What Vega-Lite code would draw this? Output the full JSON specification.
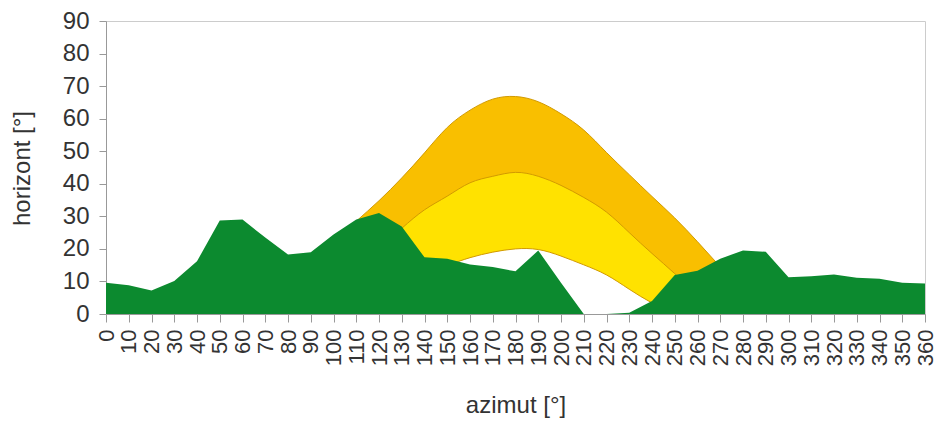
{
  "$schema": "https://vega.github.io/schema/vega-lite/v6.json",
  "autosize": "none",
  "width": 819,
  "height": 293,
  "padding": {"left": 106, "top": 21, "right": 11, "bottom": 111},
  "background": "white",
  "config": {
    "view": {"stroke": "#cccccc", "strokeWidth": 1},
    "font": "Liberation Sans"
  },
  "datasets": {
    "sun": [
      {"curve": "summer", "az": 90, "alt": 15},
      {"curve": "summer", "az": 100, "alt": 22},
      {"curve": "summer", "az": 110, "alt": 28.5},
      {"curve": "summer", "az": 120, "alt": 34.8},
      {"curve": "summer", "az": 130, "alt": 41.8},
      {"curve": "summer", "az": 140, "alt": 49.5},
      {"curve": "summer", "az": 150, "alt": 57.3},
      {"curve": "summer", "az": 160, "alt": 62.6},
      {"curve": "summer", "az": 170, "alt": 66},
      {"curve": "summer", "az": 180, "alt": 66.8},
      {"curve": "summer", "az": 190, "alt": 65.2},
      {"curve": "summer", "az": 200, "alt": 61.5},
      {"curve": "summer", "az": 210, "alt": 56.5},
      {"curve": "summer", "az": 220, "alt": 49.6},
      {"curve": "summer", "az": 230, "alt": 42.8},
      {"curve": "summer", "az": 240, "alt": 36.1},
      {"curve": "summer", "az": 250, "alt": 29.5},
      {"curve": "summer", "az": 260, "alt": 22.2},
      {"curve": "summer", "az": 270, "alt": 14.5},
      {"curve": "summer", "az": 280, "alt": 7},
      {"curve": "equinox", "az": 110, "alt": 13.5},
      {"curve": "equinox", "az": 120, "alt": 20},
      {"curve": "equinox", "az": 130, "alt": 26.3},
      {"curve": "equinox", "az": 140, "alt": 32},
      {"curve": "equinox", "az": 150, "alt": 36.2},
      {"curve": "equinox", "az": 160, "alt": 40.3},
      {"curve": "equinox", "az": 170, "alt": 42.3},
      {"curve": "equinox", "az": 180, "alt": 43.5},
      {"curve": "equinox", "az": 190, "alt": 42.3},
      {"curve": "equinox", "az": 200, "alt": 39.5},
      {"curve": "equinox", "az": 210, "alt": 35.8},
      {"curve": "equinox", "az": 220, "alt": 31.3},
      {"curve": "equinox", "az": 230, "alt": 25},
      {"curve": "equinox", "az": 240, "alt": 18.6},
      {"curve": "equinox", "az": 250, "alt": 12.4},
      {"curve": "equinox", "az": 260, "alt": 6},
      {"curve": "equinox", "az": 270, "alt": 0},
      {"curve": "winter", "az": 130, "alt": 8},
      {"curve": "winter", "az": 140, "alt": 11.5},
      {"curve": "winter", "az": 150, "alt": 14.8},
      {"curve": "winter", "az": 160, "alt": 17.3},
      {"curve": "winter", "az": 170, "alt": 19},
      {"curve": "winter", "az": 180, "alt": 20},
      {"curve": "winter", "az": 190, "alt": 19.8},
      {"curve": "winter", "az": 200, "alt": 17.8},
      {"curve": "winter", "az": 210, "alt": 15.1},
      {"curve": "winter", "az": 220, "alt": 12},
      {"curve": "winter", "az": 230, "alt": 7.6},
      {"curve": "winter", "az": 240, "alt": 3.4},
      {"curve": "winter", "az": 250, "alt": 0}
    ],
    "horizon": [
      {"az": 0, "alt": 9.6}, {"az": 10, "alt": 8.8}, {"az": 20, "alt": 7.2},
      {"az": 30, "alt": 10.1}, {"az": 40, "alt": 16.2}, {"az": 50, "alt": 28.7},
      {"az": 60, "alt": 29}, {"az": 70, "alt": 23.5}, {"az": 80, "alt": 18.3},
      {"az": 90, "alt": 19}, {"az": 100, "alt": 24.4}, {"az": 110, "alt": 29},
      {"az": 120, "alt": 31}, {"az": 130, "alt": 26.9}, {"az": 140, "alt": 17.4},
      {"az": 150, "alt": 17}, {"az": 160, "alt": 15.2}, {"az": 170, "alt": 14.4},
      {"az": 180, "alt": 13.1}, {"az": 190, "alt": 19.5}, {"az": 200, "alt": 9.6},
      {"az": 210, "alt": 0}, {"az": 220, "alt": 0}, {"az": 230, "alt": 0.4},
      {"az": 240, "alt": 4}, {"az": 250, "alt": 12}, {"az": 260, "alt": 13.3},
      {"az": 270, "alt": 17}, {"az": 280, "alt": 19.5}, {"az": 290, "alt": 19.1},
      {"az": 300, "alt": 11.3}, {"az": 310, "alt": 11.6}, {"az": 320, "alt": 12.1},
      {"az": 330, "alt": 11.1}, {"az": 340, "alt": 10.8}, {"az": 350, "alt": 9.6},
      {"az": 360, "alt": 9.4}
    ]
  },
  "encoding": {
    "x": {
      "field": "az", "type": "quantitative",
      "scale": {"domain": [0, 360], "nice": false, "zero": false},
      "axis": {
        "values": [0,10,20,30,40,50,60,70,80,90,100,110,120,130,140,150,160,170,180,190,200,210,220,230,240,250,260,270,280,290,300,310,320,330,340,350,360],
        "labelAngle": -90, "labelFontSize": 22, "labelColor": "#333333",
        "labelPadding": 7, "tickSize": 8, "tickColor": "#999999", "domainColor": "#999999",
        "labelOverlap": false, "labelFlush": false, "labelBound": false, "grid": false,
        "title": "azimut [°]", "titleFontSize": 24, "titleFontWeight": "normal", "titleColor": "#333333",
        "titleY": 91, "titleBaseline": "middle"
      }
    },
    "y": {
      "field": "alt", "type": "quantitative",
      "scale": {"domain": [0, 90], "nice": false},
      "axis": {
        "values": [0,10,20,30,40,50,60,70,80,90],
        "labelFontSize": 24, "labelColor": "#333333", "labelPadding": 10,
        "tickSize": 7, "tickColor": "#999999", "domainColor": "#999999",
        "labelOverlap": false, "labelFlush": false, "grid": false,
        "title": "horizont [°]", "titleFontSize": 24, "titleFontWeight": "normal", "titleColor": "#333333",
        "titleX": -84, "titleY": 147, "titleBaseline": "middle", "titleAngle": -90
      }
    }
  },
  "layer": [
    {
      "data": {"name": "sun"},
      "transform": [{"filter": "datum.curve === 'summer'"}],
      "mark": {"type": "area", "color": "#f9bf00", "interpolate": "natural"}
    },
    {
      "data": {"name": "sun"},
      "transform": [{"filter": "datum.curve === 'equinox'"}],
      "mark": {"type": "area", "color": "#ffe200", "interpolate": "natural"}
    },
    {
      "data": {"name": "sun"},
      "transform": [{"filter": "datum.curve === 'winter'"}],
      "mark": {"type": "area", "color": "#ffffff", "interpolate": "natural"}
    },
    {
      "data": {"name": "sun"},
      "mark": {"type": "line", "color": "#d29a00", "strokeWidth": 1, "interpolate": "natural"},
      "encoding": {"detail": {"field": "curve", "type": "nominal"}}
    },
    {
      "data": {"name": "horizon"},
      "mark": {"type": "area", "color": "#0c8a2f", "interpolate": "linear"}
    }
  ]
}
